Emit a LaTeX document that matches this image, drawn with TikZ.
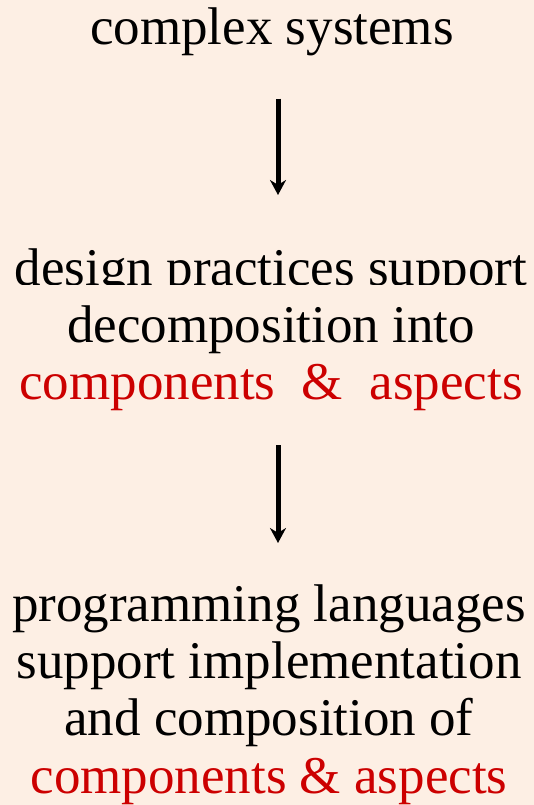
\documentclass[tikz,border=0pt]{standalone}
\usepackage{fontspec}
\setmainfont{Liberation Serif}
\usetikzlibrary{arrows.meta}
\definecolor{peach}{RGB}{253,239,228}
\definecolor{darkred}{RGB}{204,0,0}
\tikzset{
	txt/.style={inner sep=0, anchor=base, align=center, font=\fontsize{53}{57}\selectfont},
	arr/.style={line width=5pt, -{Stealth[length=15pt,width=16pt]}},
}

\begin{document}
\begin{tikzpicture}[x=1pt,y=1pt]
		%%%%% START %%%%%
		
		\fill[peach] (0,0) rectangle (534,805);
		\useasboundingbox (0,0) rectangle (534,805);
		\coordinate (axis) at (278,0);
		
		% base anchor sits on the last line
		\node[txt] (sys) at (272,760) {complex systems};
		\node[txt] (mid) at (271,405) {design practices support\\decomposition into\\\textcolor{darkred}{components\ \ \&\ \ aspects}};
		\node[txt] (low) at (269,12) {programming languages\\support implementation\\and composition of\\\textcolor{darkred}{components \& aspects}};
		
		% cut-off descenders of the first line
		\fill[peach] (0,519.5) rectangle (534,505);
		
		\draw[arr, shorten <=42pt, shorten >=54pt] (sys.south -| axis) -- (mid.north -| axis);
		\draw[arr, shorten <=34pt, shorten >=42pt] (mid.south -| axis) -- (low.north -| axis);
		
		%%%%% END %%%%%
\end{tikzpicture}
\end{document}
